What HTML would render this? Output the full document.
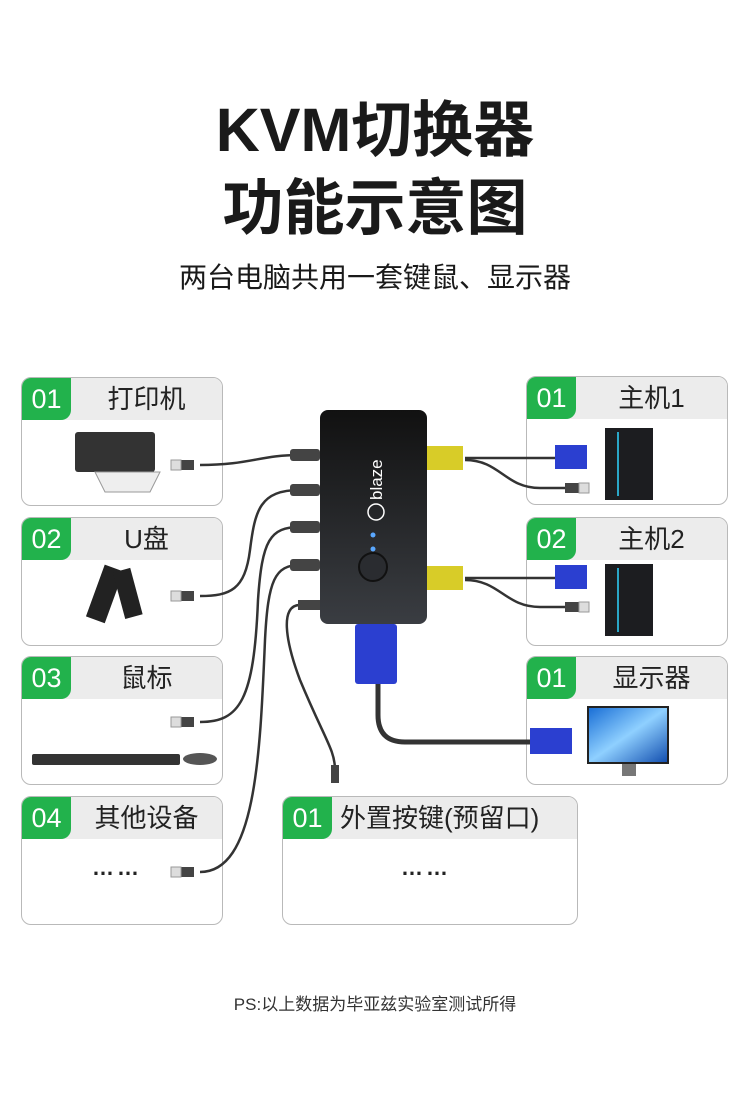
<!DOCTYPE html>
<html><head><meta charset="utf-8"><style>
body{margin:0;width:750px;height:1099px;background:#fff;position:relative;overflow:hidden;font-family:"Liberation Sans","Noto Sans CJK SC",sans-serif;color:#222}
.t{position:absolute;left:0;width:750px;text-align:center;font-weight:700;color:#1a1a1a}
.box{position:absolute;border:1.5px solid #b9b9b9;border-radius:10px;background:#fff;overflow:hidden}
.hd{height:42px;background:#ececec;position:relative}
.num{position:absolute;left:0;top:0;width:49px;height:42px;background:#22b24c;color:#fff;font-size:27px;line-height:42px;text-align:center;border-bottom-right-radius:10px}
.lb{position:absolute;left:49px;right:0;top:0;line-height:42px;text-align:center;font-size:26px;color:#222}
.dots{position:absolute;font-size:22px;font-weight:700;letter-spacing:3px}
</style></head><body>
<div class="t" style="top:90px;font-size:61px;line-height:80px">KVM切换器</div>
<div class="t" style="top:168px;font-size:61px;line-height:80px">功能示意图</div>
<div class="t" style="top:258px;font-size:28px;font-weight:400;line-height:40px">两台电脑共用一套键鼠、显示器</div>

<div class="box" style="left:21px;top:377px;width:200px;height:127px"><div class="hd"><div class="num">01</div><div class="lb">打印机</div></div></div>
<div class="box" style="left:21px;top:517px;width:200px;height:127px"><div class="hd"><div class="num">02</div><div class="lb">U盘</div></div></div>
<div class="box" style="left:21px;top:656px;width:200px;height:127px"><div class="hd"><div class="num">03</div><div class="lb">鼠标</div></div></div>
<div class="box" style="left:21px;top:796px;width:200px;height:127px"><div class="hd"><div class="num">04</div><div class="lb">其他设备</div></div><div class="dots" style="left:70px;top:58px">……</div></div>
<div class="box" style="left:282px;top:796px;width:294px;height:127px"><div class="hd"><div class="num">01</div><div class="lb" style="text-align:left;padding-left:8px">外置按键(预留口)</div></div><div class="dots" style="left:118px;top:58px">……</div></div>
<div class="box" style="left:526px;top:376px;width:200px;height:127px"><div class="hd"><div class="num">01</div><div class="lb">主机1</div></div></div>
<div class="box" style="left:526px;top:517px;width:200px;height:127px"><div class="hd"><div class="num">02</div><div class="lb">主机2</div></div></div>
<div class="box" style="left:526px;top:656px;width:200px;height:127px"><div class="hd"><div class="num">01</div><div class="lb">显示器</div></div></div>

<svg width="750" height="1099" style="position:absolute;left:0;top:0">
<defs>
<linearGradient id="dv" x1="0" y1="0" x2="0" y2="1"><stop offset="0" stop-color="#111"/><stop offset="1" stop-color="#3a3d42"/></linearGradient>
<linearGradient id="mon" x1="0" y1="0" x2="1" y2="1"><stop offset="0" stop-color="#1a6fd6"/><stop offset="0.5" stop-color="#8fd0ff"/><stop offset="1" stop-color="#1450b0"/></linearGradient>
</defs>
<g fill="none" stroke="#333" stroke-width="2.5">
<path d="M300 455 C260 455 250 465 200 465"/>
<path d="M300 490 C260 490 255 510 250 550 C245 590 230 596 200 596"/>
<path d="M300 527 C270 527 262 540 258 600 C254 700 240 722 200 722"/>
<path d="M300 565 C275 565 268 580 265 640 C260 760 255 872 200 872"/>
<path d="M300 605 C280 605 285 640 300 680 C325 740 335 750 335 770"/>
<path d="M465 458 L555 458"/><path d="M465 460 C500 460 505 488 540 488 L575 488"/>
<path d="M465 578 L555 578"/><path d="M465 580 C500 580 505 607 540 607 L575 607"/>
</g>
<path d="M378 680 L378 715 Q378 742 405 742 L535 742" fill="none" stroke="#333" stroke-width="5"/>
<g fill="#444"><rect x="290" y="449" width="30" height="12" rx="3"/><rect x="290" y="484" width="30" height="12" rx="3"/><rect x="290" y="521" width="30" height="12" rx="3"/><rect x="290" y="559" width="30" height="12" rx="3"/><rect x="298" y="600" width="22" height="10"/>
<rect x="180" y="460" width="14" height="10"/><rect x="180" y="591" width="14" height="10"/><rect x="180" y="717" width="14" height="10"/><rect x="180" y="867" width="14" height="10"/>
<rect x="331" y="765" width="8" height="18"/><rect x="565" y="483" width="14" height="10"/><rect x="565" y="602" width="14" height="10"/></g>
<g fill="#ddd" stroke="#999"><rect x="171" y="460" width="10" height="10"/><rect x="171" y="591" width="10" height="10"/><rect x="171" y="717" width="10" height="10"/><rect x="171" y="867" width="10" height="10"/><rect x="579" y="483" width="10" height="10"/><rect x="579" y="602" width="10" height="10"/></g>
<rect x="320" y="410" width="107" height="214" rx="8" fill="url(#dv)"/>
<circle cx="373" cy="567" r="14" fill="#2a2c30" stroke="#111" stroke-width="2"/>
<circle cx="373" cy="535" r="2.5" fill="#5aa8ff"/><circle cx="373" cy="549" r="2.5" fill="#5aa8ff"/>
<circle cx="376" cy="512" r="8" fill="none" stroke="#fff" stroke-width="1.5"/>
<text x="0" y="0" transform="translate(382,500) rotate(-90)" fill="#fff" font-size="17" font-family="Liberation Sans">blaze</text>
<g fill="#d8cc28"><rect x="427" y="446" width="36" height="24"/><rect x="427" y="566" width="36" height="24"/></g>
<g fill="#2b3fd0"><rect x="355" y="624" width="42" height="60" rx="3"/><rect x="555" y="445" width="32" height="24"/><rect x="555" y="565" width="32" height="24"/><rect x="530" y="728" width="42" height="26"/></g>
<g fill="#1c1d20"><rect x="605" y="428" width="48" height="72"/><rect x="605" y="564" width="48" height="72"/></g>
<g stroke="#2aa7c8" stroke-width="2"><line x1="618" y1="432" x2="618" y2="496"/><line x1="618" y1="568" x2="618" y2="632"/></g>
<rect x="587" y="706" width="82" height="58" fill="#222"/><rect x="589" y="708" width="78" height="54" fill="url(#mon)"/>
<rect x="622" y="764" width="14" height="12" fill="#777"/>
<rect x="75" y="432" width="80" height="40" rx="3" fill="#333"/><polygon points="95,472 160,472 150,492 105,492" fill="#eee" stroke="#999"/>
<g transform="rotate(20 115 595)"><rect x="95" y="570" width="20" height="55" fill="#222"/><rect x="118" y="565" width="18" height="48" fill="#222" transform="rotate(-35 127 590)"/></g>
<rect x="32" y="754" width="148" height="11" rx="2" fill="#333"/><ellipse cx="200" cy="759" rx="17" ry="6" fill="#555"/>
</svg>
<div style="position:absolute;left:0;width:750px;top:990px;text-align:center;font-size:17px;color:#333">PS:以上数据为毕亚兹实验室测试所得</div>
</body></html>
